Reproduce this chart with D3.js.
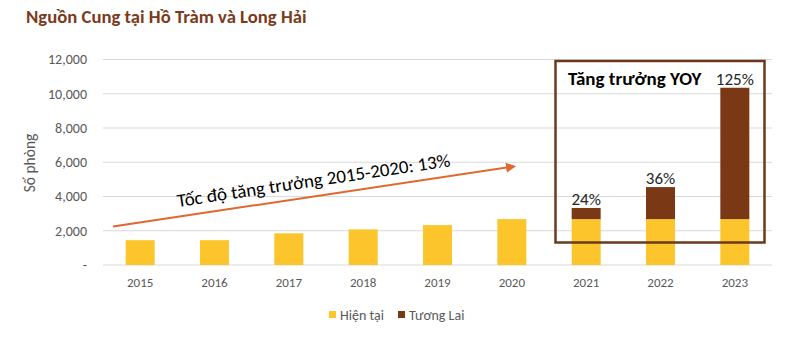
<!DOCTYPE html>
<html><head><meta charset="utf-8">
<script src="https://cdn.jsdelivr.net/npm/d3@7"></script>
<style>body{margin:0;background:#fff}svg{display:block}</style>
</head><body>
<svg id="c" width="789" height="337"></svg>
<script>
const years = ["2015","2016","2017","2018","2019","2020","2021","2022","2023"];
const current = [1450,1450,1850,2080,2330,2680,2680,2680,2680];
const future = [0,0,0,0,0,0,650,1870,7670];
const growthLabels = ["","","","","","","24%","36%","125%"];
const yTicks = [0,2000,4000,6000,8000,10000,12000];
const seriesNames = ["Hiện tại","Tương Lai"];
const colors = ["#FCC52B","#7A3815"];
const font = "Calibri, Carlito, Lato, sans-serif";

const svg = d3.select("#c");
const x = d3.scaleBand().domain(years).range([103,772]).paddingInner(0.61).paddingOuter(0.305);
const y = d3.scaleLinear().domain([0,12000]).range([265,59.5]);

// title
svg.append("text").attr("x",26).attr("y",23).attr("font-family",font).attr("font-weight","bold")
  .attr("font-size",18.7).attr("fill","#7B3A1A").text("Nguồn Cung tại Hồ Tràm và Long Hải");

// gridlines
svg.append("g").selectAll("line").data(yTicks).join("line")
  .attr("x1",103).attr("x2",772).attr("y1",d=>y(d)).attr("y2",d=>y(d))
  .attr("stroke","#d9d9d9").attr("stroke-width",1);

// y axis labels
const yAxis = d3.axisLeft(y).tickValues(yTicks).tickSize(0).tickPadding(0)
  .tickFormat(d=> d===0 ? "-" : d3.format(",")(d));
const ga = svg.append("g").attr("transform","translate(87,0)").call(yAxis);
ga.select(".domain").remove();
ga.selectAll("text").attr("font-family",font).attr("font-size",14).attr("fill","#595959");

// y title
svg.append("text").attr("transform","translate(35,163) rotate(-90)").attr("text-anchor","middle")
  .attr("font-family",font).attr("font-size",15.5).attr("fill","#595959").text("Số phòng");

// x axis labels
const xAxis = d3.axisBottom(x).tickSize(0).tickPadding(0);
const gx = svg.append("g").attr("transform","translate(0,278)").call(xAxis);
gx.select(".domain").remove();
gx.selectAll("text").attr("font-family",font).attr("font-size",13).attr("fill","#595959");

// bars
const data = years.map((yr,i)=>({yr, c:current[i], f:future[i], g:growthLabels[i]}));
svg.append("g").selectAll("rect").data(data).join("rect")
  .attr("x",d=>x(d.yr)).attr("width",x.bandwidth())
  .attr("y",d=>y(d.c)).attr("height",d=>y(0)-y(d.c)).attr("fill",colors[0]);
svg.append("g").selectAll("rect").data(data.filter(d=>d.f>0)).join("rect")
  .attr("x",d=>x(d.yr)).attr("width",x.bandwidth())
  .attr("y",d=>y(d.c+d.f)).attr("height",d=>y(d.c)-y(d.c+d.f)).attr("fill",colors[1]);

// growth labels
svg.append("g").selectAll("text").data(data.filter(d=>d.g)).join("text")
  .attr("x",d=>x(d.yr)+x.bandwidth()/2).attr("y",d=>y(d.c+d.f)-3)
  .attr("text-anchor","middle").attr("font-family",font).attr("font-size",17).attr("fill","#262626")
  .text(d=>d.g);

// YOY box
svg.append("rect").attr("x",555.5).attr("y",61).attr("width",209).attr("height",181.5)
  .attr("fill","none").attr("stroke","#6B3A1E").attr("stroke-width",2.5);
svg.append("text").attr("x",568).attr("y",85).attr("font-family",font).attr("font-weight","bold")
  .attr("font-size",19).attr("fill","#000").text("Tăng trưởng YOY");

// arrow
const defs = svg.append("defs");
defs.append("marker").attr("id","ah").attr("viewBox","0 0 10 10").attr("refX",8).attr("refY",5)
  .attr("markerWidth",5).attr("markerHeight",5).attr("orient","auto")
  .append("path").attr("d","M0,0 L10,5 L0,10 z").attr("fill","#E2672E");
svg.append("line").attr("x1",113).attr("y1",226.5).attr("x2",514).attr("y2",166.5)
  .attr("stroke","#E2672E").attr("stroke-width",2).attr("marker-end","url(#ah)");
const ang = Math.atan2(166.5-226.5, 514-113)*180/Math.PI;
svg.append("text").attr("transform",`translate(178,207) rotate(${ang})`)
  .attr("font-family",font).attr("font-size",18.5).attr("fill","#000")
  .attr("textLength",276).attr("lengthAdjust","spacingAndGlyphs")
  .text("Tốc độ tăng trưởng 2015-2020: 13%");

// legend
const lg = svg.append("g");
seriesNames.forEach((n,i)=>{
  const lx = [329,398][i];
  lg.append("rect").attr("x",lx).attr("y",311).attr("width",7).attr("height",7).attr("fill",colors[i]);
  lg.append("text").attr("x",lx+11).attr("y",319.5).attr("font-family",font).attr("font-size",14)
    .attr("fill","#595959").text(n);
});
</script>
</body></html>
